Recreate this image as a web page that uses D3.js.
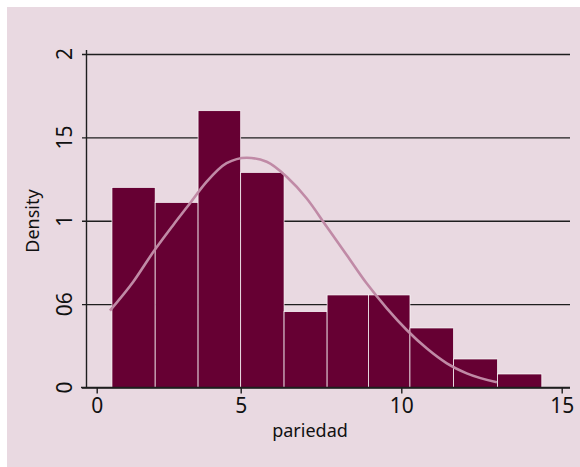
<!doctype html>
<html lang="en">
<head>
<meta charset="UTF-8">
<title>pariedad</title>
<script src="https://d3js.org/d3.v7.min.js"></script>
<style>
  body { margin: 0; background: #fff; }
</style>
</head>
<body>
<div id="chart-area"></div>
<script>
// histogram of pariedad, density scale
const binEdges = [0.53, 2.03, 3.52, 5.0, 6.35, 7.69, 8.98, 10.27, 11.63, 13.0, 14.38];
const binDensity = [0.120, 0.111, 0.166, 0.129, 0.0455, 0.0555, 0.0555, 0.0357, 0.0171, 0.0081];

// normal density overlay
const curveX = [0.46, 1.27, 1.97, 2.66, 3.24, 3.82, 4.51, 5.19, 5.81, 6.43, 7.05, 7.68,
                8.30, 8.92, 9.55, 10.17, 10.79, 11.42, 12.04, 12.98];
const curveY = [0.0461, 0.0634, 0.0814, 0.0975, 0.1105, 0.1234, 0.1345, 0.1378, 0.1354, 0.1264,
                0.1135, 0.0964, 0.0795, 0.0625, 0.0475, 0.0345, 0.0235, 0.0145, 0.0085, 0.0031];

const xTicks = [0, 5, 10, 15];
const yTicks = [0, 0.05, 0.1, 0.15, 0.2];
const yTickLabels = ['0', '06', '1', '15', '2'];

const W = 580, H = 467;
const left = 86.5, right = 570, bottom = 387.5;

const svg = d3.select('#chart-area')
    .append('svg')
    .attr('width', W)
    .attr('height', H);

svg.append('rect')
    .attr('x', 7).attr('y', 7)
    .attr('width', W - 7).attr('height', H - 7)
    .attr('fill', '#e9d9e1');

const x = d3.scaleLinear()
    .domain([0, 5, 10, 15])
    .range([96.7, 240.7, 401.3, 561.7]);

const y = d3.scaleLinear()
    .domain([0, 0.2])
    .range([bottom, 54]);

// grid lines
const grid = svg.append('g')
    .attr('transform', `translate(${right},0)`)
    .call(d3.axisLeft(y).tickValues(yTicks).tickSize(right - 82).tickFormat(''));
grid.select('.domain').remove();
grid.selectAll('line')
    .attr('stroke', '#1e1e1e')
    .attr('stroke-width', 1.4);

// bars
const bins = binDensity.map((d, i) => ({ x0: binEdges[i], x1: binEdges[i + 1], d }));
svg.selectAll('rect.bar')
    .data(bins)
    .enter()
    .append('rect')
    .attr('class', 'bar')
    .attr('x', d => x(d.x0))
    .attr('y', d => y(d.d))
    .attr('width', d => x(d.x1) - x(d.x0))
    .attr('height', d => bottom - y(d.d))
    .attr('fill', '#660033')
    .attr('stroke', '#fff')
    .attr('stroke-width', 0.7);

// density curve
const line = d3.line()
    .x(d => x(d[0]))
    .y(d => y(d[1]))
    .curve(d3.curveMonotoneX);

svg.append('path')
    .datum(curveX.map((v, i) => [v, curveY[i]]))
    .attr('d', line)
    .attr('fill', 'none')
    .attr('stroke', '#c08aa6')
    .attr('stroke-width', 2.6);

// y axis line
svg.append('line')
    .attr('x1', left).attr('x2', left)
    .attr('y1', 50).attr('y2', bottom)
    .attr('stroke', '#1e1e1e')
    .attr('stroke-width', 1.4);

// x axis
const xAxis = svg.append('g')
    .attr('transform', `translate(0,${bottom})`)
    .call(d3.axisBottom(x).tickValues(xTicks).tickSize(6).tickFormat(d3.format('d')));
xAxis.select('.domain')
    .attr('d', `M81,0H${right}`)
    .attr('stroke', '#1e1e1e')
    .attr('stroke-width', 1.4);
xAxis.selectAll('line')
    .attr('stroke', '#1e1e1e')
    .attr('stroke-width', 1.4);
xAxis.selectAll('text')
    .attr('y', 11)
    .attr('fill', '#111')
    .style('font-family', '"Liberation Sans Narrow", "Noto Sans", sans-serif')
    .style('font-size', '21px');

// y tick labels, rotated
svg.selectAll('text.ytick')
    .data(yTicks)
    .enter()
    .append('text')
    .attr('class', 'ytick')
    .attr('transform', d => `translate(72,${y(d)}) rotate(-90)`)
    .attr('text-anchor', 'middle')
    .attr('fill', '#111')
    .style('font-family', '"Liberation Sans Narrow", "Noto Sans", sans-serif')
    .style('font-size', '21px')
    .text((d, i) => yTickLabels[i]);

// axis titles
svg.append('text')
    .attr('x', 310).attr('y', 437)
    .attr('text-anchor', 'middle')
    .attr('fill', '#111')
    .style('font-family', '"Noto Sans", sans-serif')
    .style('font-size', '18px')
    .text('pariedad');

svg.append('text')
    .attr('transform', `translate(39,221) rotate(-90)`)
    .attr('text-anchor', 'middle')
    .attr('fill', '#111')
    .style('font-family', '"Noto Sans", sans-serif')
    .style('font-size', '18px')
    .text('Density');
</script>
</body>
</html>
